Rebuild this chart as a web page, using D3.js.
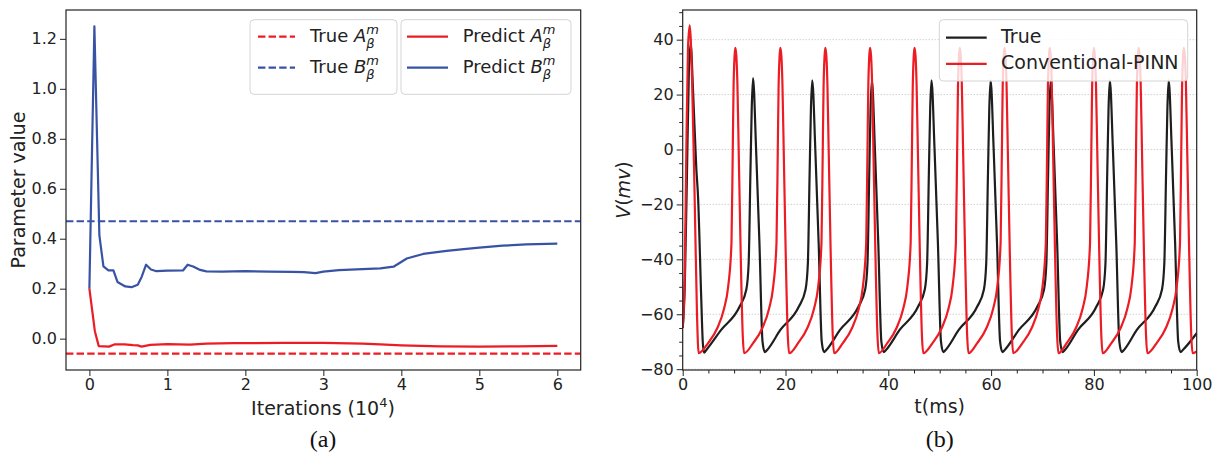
<!DOCTYPE html>
<html lang="en">
<head>
<meta charset="UTF-8">
<title>Parameter history and membrane potential</title>
<script src="https://d3js.org/d3.v7.min.js"></script>
<style>
  body { margin: 0; background: #fff; }
  svg { display: block; font-family: "DejaVu Sans", sans-serif; }
  .caption { font-family: "Liberation Serif", "DejaVu Serif", serif; font-size: 24px; fill: #111; }
</style>
</head>
<body>
<svg id="chart" width="1217" height="455"></svg>
<script>
// ---- panel (a): parameter value vs iterations (x 10^4)
const iterTicks = [0, 1, 2, 3, 4, 5, 6];
const paramTicks = [0, 0.2, 0.4, 0.6, 0.8, 1.0, 1.2];
const trueA = -0.06;
const trueB = 0.47;
const predAIter = [0, 0.07, 0.12, 0.25, 0.32, 0.45, 0.56, 0.62, 0.67, 0.78, 1.0, 1.29, 1.5, 1.85, 2.5, 3.0, 3.5, 3.73, 4.0, 4.5, 5.0, 5.5, 6.0];
const predAVal = [0.2, 0.03, -0.03, -0.032, -0.023, -0.023, -0.026, -0.027, -0.032, -0.025, -0.022, -0.024, -0.02, -0.018, -0.017, -0.017, -0.02, -0.023, -0.027, -0.031, -0.032, -0.031, -0.029];
const predBIter = [0, 0.064, 0.128, 0.18, 0.244, 0.308, 0.36, 0.46, 0.54, 0.62, 0.67, 0.727, 0.79, 0.86, 1.0, 1.2, 1.26, 1.33, 1.42, 1.5, 1.7, 2.0, 2.3, 2.6, 2.75, 2.9, 3.0, 3.2, 3.5, 3.73, 3.9, 4.07, 4.28, 4.58, 4.8, 5.0, 5.3, 5.6, 6.0];
const predBVal = [0.2, 1.25, 0.413, 0.289, 0.273, 0.273, 0.227, 0.209, 0.206, 0.216, 0.247, 0.296, 0.277, 0.27, 0.272, 0.273, 0.296, 0.289, 0.275, 0.269, 0.268, 0.27, 0.268, 0.267, 0.266, 0.262, 0.268, 0.274, 0.278, 0.281, 0.288, 0.321, 0.339, 0.351, 0.358, 0.364, 0.372, 0.377, 0.38];

// ---- panel (b): membrane potential V(mv) vs t(ms)
const timeTicks = [0, 20, 40, 60, 80, 100];
const voltTicks = [-80, -60, -40, -20, 0, 20, 40];
const trueTrace = [
  [0,-65],[0.4,-50],[0.8,-12],[1.2,28],[1.55,38.5],[2.0,22],[2.65,-7],[2.98,-17],[3.62,-55],[3.9,-70],[4.15,-74],
  [4.6,-73],[7.48,-65.7],[11.08,-57.2],[12.38,-51],[12.83,-41.5],[13.18,-8],[13.43,15],[13.68,26],[14.28,0],[14.93,-34],[15.53,-70],[15.98,-73.8],
  [16.43,-73],[19.0,-65.7],[22.6,-57.2],[23.9,-51],[24.35,-41.5],[24.7,-8],[24.95,15],[25.2,25.2],[25.8,0],[26.45,-34],[27.05,-70],[27.5,-73.8],
  [27.95,-73],[30.6,-65.7],[34.2,-57.2],[35.5,-51],[35.95,-41.5],[36.3,-8],[36.55,15],[36.8,25.2],[37.4,0],[38.05,-34],[38.65,-70],[39.1,-73.8],
  [39.55,-73],[42.2,-65.7],[45.8,-57.2],[47.1,-51],[47.55,-41.5],[47.9,-8],[48.15,15],[48.4,25.2],[49.0,0],[49.65,-34],[50.25,-70],[50.7,-73.8],
  [51.15,-73],[53.7,-65.7],[57.3,-57.2],[58.6,-51],[59.05,-41.5],[59.4,-8],[59.65,15],[59.9,25.2],[60.5,0],[61.15,-34],[61.75,-70],[62.2,-73.8],
  [62.65,-73],[65.4,-65.7],[69.0,-57.2],[70.3,-51],[70.75,-41.5],[71.1,-8],[71.35,15],[71.6,25.2],[72.2,0],[72.85,-34],[73.45,-70],[73.9,-73.8],
  [74.35,-73],[76.9,-65.7],[80.5,-57.2],[81.8,-51],[82.25,-41.5],[82.6,-8],[82.85,15],[83.1,25.2],[83.7,0],[84.35,-34],[84.95,-70],[85.4,-73.8],
  [85.85,-73],[88.35,-65.7],[91.95,-57.2],[93.25,-51],[93.7,-41.5],[94.05,-8],[94.3,15],[94.55,25.2],[95.15,0],[95.8,-34],[96.4,-70],[96.85,-73.8],
  [97.3,-73],[100,-66.9]
];
const pinnTrace = [
  [0,-65],[0.39,-46],[0.7,-1],[1.03,37],[1.36,45.2],[1.81,26.4],[2.33,-18],[2.78,-60],[3.1,-74.2],
  [4.94,-70.5],[6.74,-65],[8.04,-58],[8.84,-50],[9.49,-34],[9.74,0],[9.89,22],[10.09,34],[10.24,37],[10.44,34],[10.64,24],[10.89,0],[11.24,-34],[11.69,-68],[11.94,-74.2],
  [13.7,-70.5],[15.5,-65],[16.8,-58],[17.6,-50],[18.25,-34],[18.5,0],[18.65,22],[18.85,34],[19.0,37],[19.2,34],[19.4,24],[19.65,0],[20.0,-34],[20.45,-68],[20.7,-74.2],
  [22.45,-70.5],[24.25,-65],[25.55,-58],[26.35,-50],[27.0,-34],[27.25,0],[27.4,22],[27.6,34],[27.75,37],[27.95,34],[28.15,24],[28.4,0],[28.75,-34],[29.2,-68],[29.45,-74.2],
  [31.15,-70.5],[32.95,-65],[34.25,-58],[35.05,-50],[35.7,-34],[35.95,0],[36.1,22],[36.3,34],[36.45,37],[36.65,34],[36.85,24],[37.1,0],[37.45,-34],[37.9,-68],[38.15,-74.2],
  [39.8,-70.5],[41.6,-65],[42.9,-58],[43.7,-50],[44.35,-34],[44.6,0],[44.75,22],[44.95,34],[45.1,37],[45.3,34],[45.5,24],[45.75,0],[46.1,-34],[46.55,-68],[46.8,-74.2],
  [48.6,-70.5],[50.4,-65],[51.7,-58],[52.5,-50],[53.15,-34],[53.4,0],[53.55,22],[53.75,34],[53.9,37],[54.1,34],[54.3,24],[54.55,0],[54.9,-34],[55.35,-68],[55.6,-74.2],
  [57.3,-70.5],[59.1,-65],[60.4,-58],[61.2,-50],[61.85,-34],[62.1,0],[62.25,22],[62.45,34],[62.6,37],[62.8,34],[63.0,24],[63.25,0],[63.6,-34],[64.05,-68],[64.3,-74.2],
  [66.1,-70.5],[67.9,-65],[69.2,-58],[70.0,-50],[70.65,-34],[70.9,0],[71.05,22],[71.25,34],[71.4,37],[71.6,34],[71.8,24],[72.05,0],[72.4,-34],[72.85,-68],[73.1,-74.2],
  [74.7,-70.5],[76.5,-65],[77.8,-58],[78.6,-50],[79.25,-34],[79.5,0],[79.65,22],[79.85,34],[80.0,37],[80.2,34],[80.4,24],[80.65,0],[81.0,-34],[81.45,-68],[81.7,-74.2],
  [83.4,-70.5],[85.2,-65],[86.5,-58],[87.3,-50],[87.95,-34],[88.2,0],[88.35,22],[88.55,34],[88.7,37],[88.9,34],[89.1,24],[89.35,0],[89.7,-34],[90.15,-68],[90.4,-74.2],
  [92.2,-70.5],[94.0,-65],[95.3,-58],[96.1,-50],[96.75,-34],[97.0,0],[97.15,22],[97.35,34],[97.5,37],[97.7,34],[97.9,24],[98.15,0],[98.5,-34],[98.95,-68],[99.2,-74.2],
  [100,-73.5]
];

const RED = "#ec1c24", BLUE = "#3953a4", BLACK = "#1e1e1e", INK = "#222";

const svg = d3.select("#chart");

function styleAxis(g) {
  g.attr("font-family", "DejaVu Sans").attr("font-size", 16);
  g.select(".domain").remove();
  g.selectAll(".tick line").attr("stroke", INK);
  g.selectAll(".tick text").attr("fill", INK);
}

function frame(x, y) {
  svg.append("rect")
    .attr("x", x.range()[0]).attr("y", y.range()[1])
    .attr("width", x.range()[1] - x.range()[0])
    .attr("height", y.range()[0] - y.range()[1])
    .attr("fill", "none").attr("stroke", INK).attr("stroke-width", 1.2);
}

function clip(id, x, y) {
  svg.append("clipPath").attr("id", id).append("rect")
    .attr("x", x.range()[0]).attr("y", y.range()[1])
    .attr("width", x.range()[1] - x.range()[0])
    .attr("height", y.range()[0] - y.range()[1]);
}

// ================= panel (a)
const xa = d3.scaleLinear().domain([-0.3, 6.3]).range([66, 580.7]);
const ya = d3.scaleLinear().domain([-0.1255, 1.3155]).range([370, 10]);
clip("clipA", xa, ya);

svg.append("g").attr("transform", "translate(0,370)")
  .call(d3.axisBottom(xa).tickValues(iterTicks).tickSize(6).tickPadding(3).tickFormat(d3.format("d")))
  .call(styleAxis);
svg.append("g").attr("transform", "translate(66,0)")
  .call(d3.axisLeft(ya).tickValues(paramTicks).tickSize(6).tickPadding(3).tickFormat(d3.format(".1f")))
  .call(styleAxis);

const plotA = svg.append("g").attr("clip-path", "url(#clipA)");
[[trueA, RED], [trueB, BLUE]].forEach(([v, c]) => {
  plotA.append("line")
    .attr("x1", xa.range()[0]).attr("x2", xa.range()[1])
    .attr("y1", ya(v)).attr("y2", ya(v))
    .attr("stroke", c).attr("stroke-width", 2.2).attr("stroke-dasharray", "7.4,3.2");
});
const lineA = d3.line().x(d => xa(d[0])).y(d => ya(d[1]));
plotA.append("path").datum(d3.zip(predAIter, predAVal))
  .attr("d", lineA).attr("fill", "none").attr("stroke", RED).attr("stroke-width", 2.2)
  .attr("stroke-linejoin", "round");
plotA.append("path").datum(d3.zip(predBIter, predBVal))
  .attr("d", lineA).attr("fill", "none").attr("stroke", BLUE).attr("stroke-width", 2.2)
  .attr("stroke-linejoin", "round");
frame(xa, ya);

svg.append("text").attr("transform", "translate(25,190) rotate(-90)")
  .attr("text-anchor", "middle").attr("font-size", 19).attr("fill", INK)
  .text("Parameter value");
const xlabA = svg.append("text").attr("x", 323).attr("y", 415)
  .attr("text-anchor", "middle").attr("font-size", 19).attr("fill", INK);
xlabA.append("tspan").text("Iterations (10");
xlabA.append("tspan").attr("font-size", 13).attr("dy", -8).text("4");
xlabA.append("tspan").attr("dy", 8).text(")");

// legends of (a): two framed boxes
function mathLabel(g, x, y, prefix, letter) {
  const t = g.append("text").attr("x", x).attr("y", y).attr("font-size", 18).attr("fill", INK);
  t.append("tspan").text(prefix + " ");
  t.append("tspan").attr("font-style", "italic").text(letter);
  const m = t.append("tspan").attr("font-style", "italic").attr("font-size", 13).attr("dy", -8.5).text("m");
  const w = m.node().getComputedTextLength();
  t.append("tspan").attr("font-style", "italic").attr("font-size", 13).attr("dx", -w).attr("dy", 14.5).text("β");
}
function legendBox(x, y, w, h) {
  const g = svg.append("g");
  g.append("rect").attr("x", x).attr("y", y).attr("width", w).attr("height", h).attr("rx", 4)
    .attr("fill", "#fff").attr("fill-opacity", 0.8).attr("stroke", "#d4d4d4").attr("stroke-width", 1);
  return g;
}
const legA1 = legendBox(250, 19.7, 147, 74.6);
const legA2 = legendBox(401, 19.7, 170, 74.6);
const legRowsA = [
  { c: RED, letter: "A", y: 36.7 },
  { c: BLUE, letter: "B", y: 67.7 }
];
legRowsA.forEach(r => {
  legA1.append("line").attr("x1", 258).attr("x2", 295).attr("y1", r.y).attr("y2", r.y)
    .attr("stroke", r.c).attr("stroke-width", 2.2).attr("stroke-dasharray", "7.4,3.2");
  mathLabel(legA1, 310, r.y + 5.6, "True", r.letter);
  legA2.append("line").attr("x1", 407).attr("x2", 448).attr("y1", r.y).attr("y2", r.y)
    .attr("stroke", r.c).attr("stroke-width", 2.2);
  mathLabel(legA2, 462.7, r.y + 5.6, "Predict", r.letter);
});

svg.append("text").attr("class", "caption").attr("x", 323).attr("y", 447)
  .attr("text-anchor", "middle").text("(a)");

// ================= panel (b)
const xb = d3.scaleLinear().domain([0, 100]).range([682.7, 1196.7]);
const yb = d3.scaleLinear().domain([-80.3, 50.8]).range([370, 10]);
clip("clipB", xb, yb);

const minorT = d3.range(0, 101, 5).filter(v => v % 20 !== 0);
const minorV = d3.range(-80, 51, 5).filter(v => v % 20 !== 0);

// dotted grid at major voltage ticks
svg.append("g").selectAll("line").data(voltTicks).join("line")
  .attr("x1", xb.range()[0]).attr("x2", xb.range()[1])
  .attr("y1", d => yb(d)).attr("y2", d => yb(d))
  .attr("stroke", "#b4b4b4").attr("stroke-width", 0.9).attr("stroke-dasharray", "1,2");

svg.append("g").attr("transform", "translate(0,370)")
  .call(d3.axisBottom(xb).tickValues(timeTicks).tickSize(6).tickPadding(3).tickFormat(d3.format("d")))
  .call(styleAxis);
svg.append("g").attr("transform", "translate(0,370)")
  .call(d3.axisBottom(xb).tickValues(minorT).tickSize(3.5).tickFormat(""))
  .call(styleAxis);
svg.append("g").attr("transform", "translate(682.7,0)")
  .call(d3.axisLeft(yb).tickValues(voltTicks).tickSize(6).tickPadding(3).tickFormat(d3.format("d")))
  .call(styleAxis);
svg.append("g").attr("transform", "translate(682.7,0)")
  .call(d3.axisLeft(yb).tickValues(minorV).tickSize(3.5).tickFormat(""))
  .call(styleAxis);

const lineB = d3.line().x(d => xb(d[0])).y(d => yb(d[1])).curve(d3.curveMonotoneX);
const plotB = svg.append("g").attr("clip-path", "url(#clipB)");
plotB.append("path").datum(trueTrace).attr("d", lineB)
  .attr("fill", "none").attr("stroke", BLACK).attr("stroke-width", 2.2).attr("stroke-linejoin", "round");
plotB.append("path").datum(pinnTrace).attr("d", lineB)
  .attr("fill", "none").attr("stroke", RED).attr("stroke-width", 2.2).attr("stroke-linejoin", "round");
frame(xb, yb);

const ylabB = svg.append("text").attr("transform", "translate(630,190) rotate(-90)")
  .attr("text-anchor", "middle").attr("font-size", 19).attr("fill", INK);
ylabB.append("tspan").attr("font-style", "italic").text("V");
ylabB.append("tspan").text("(");
ylabB.append("tspan").attr("font-style", "italic").text("mv");
ylabB.append("tspan").text(")");
svg.append("text").attr("x", 939.7).attr("y", 413).attr("text-anchor", "middle")
  .attr("font-size", 19).attr("fill", INK).text("t(ms)");

const legB = legendBox(939.3, 19.7, 248.4, 61.3);
const legRowsB = [
  { c: BLACK, label: "True", y: 37.7 },
  { c: RED, label: "Conventional-PINN", y: 63.8 }
];
legRowsB.forEach(r => {
  legB.append("line").attr("x1", 946).attr("x2", 986.7).attr("y1", r.y).attr("y2", r.y)
    .attr("stroke", r.c).attr("stroke-width", 2.2);
  legB.append("text").attr("x", 1001).attr("y", r.y + 5.3).attr("font-size", 19)
    .attr("fill", INK).text(r.label);
});

svg.append("text").attr("class", "caption").attr("x", 939.7).attr("y", 447)
  .attr("text-anchor", "middle").text("(b)");
</script>
</body>
</html>
